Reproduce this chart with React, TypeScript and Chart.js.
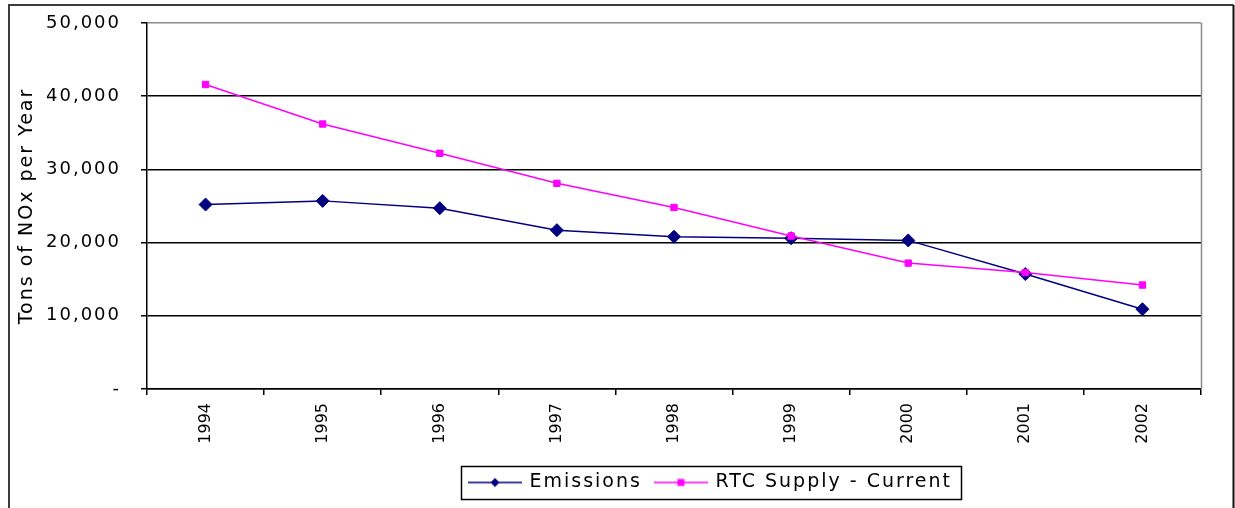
import React, { useEffect, useRef } from 'react';
import { Chart, registerables } from 'chart.js';

Chart.register(...registerables);

// ---- data ----
const years = ['1994', '1995', '1996', '1997', '1998', '1999', '2000', '2001', '2002'];
const emissions = [25200, 25700, 24700, 21700, 20800, 20600, 20300, 15700, 10900];
const rtcSupply = [41600, 36200, 32200, 28100, 24800, 20900, 17200, 15900, 14200];
const seriesNames = ['Emissions', 'RTC Supply - Current'];
const yTitle = 'Tons of NOx per Year';
const yMin = 0;
const yMax = 50000;
const yStep = 10000;

// ---- style ----
const NAVY = '#000080';
const MAGENTA = '#FF00FF';
const FONT = 'DejaVu Sans';
const W = 1235;
const H = 508;
const SPACING = '2px';
const PLOT_BOTTOM = 389;
const LEGEND_CX = 711;
const LEGEND_CY = 482.5;
const LEGEND_FONT = 19;

function makeSwatch(color: string, kind: 'diamond' | 'square'): HTMLCanvasElement {
  const c = document.createElement('canvas');
  c.width = 54;
  c.height = 14;
  const g = c.getContext('2d')!;
  g.strokeStyle = color;
  g.lineWidth = 1.5;
  g.beginPath();
  g.moveTo(0, 7);
  g.lineTo(54, 7);
  g.stroke();
  g.fillStyle = color;
  if (kind === 'diamond') {
    g.beginPath();
    g.moveTo(27, 2.5);
    g.lineTo(31.5, 7);
    g.lineTo(27, 11.5);
    g.lineTo(22.5, 7);
    g.closePath();
    g.fill();
  } else {
    g.fillRect(23.5, 3.5, 7, 7);
  }
  return c;
}

const excelPlugin = {
  id: 'excelStyle',
  beforeLayout(chart: any) {
    chart.ctx.letterSpacing = SPACING;
  },
  afterLayout(chart: any) {
    const lg = chart.legend;
    if (!lg || !lg.lineWidths) return;
    const pad = lg.options.labels.padding;
    const lw = lg.lineWidths[0];
    const x0 = (lg.left + pad + lg.right - lw) / 2;
    const target = LEGEND_CX - (lw - pad) / 2;
    const dx = target - x0;
    lg.left += dx;
    lg.right += dx;
    const itemTop = lg.top + pad;
    const dy = LEGEND_CY - LEGEND_FONT / 2 - itemTop;
    lg.top += dy;
    lg.bottom += dy;
  },
  beforeDraw(chart: any) {
    chart.ctx.letterSpacing = SPACING;
  },
  afterDatasetsDraw(chart: any) {
    chart.ctx.letterSpacing = '0px';
  },
  afterDraw(chart: any) {
    const ctx = chart.ctx;
    const a = chart.chartArea;
    ctx.save();
    // plot area right border (grey)
    ctx.strokeStyle = '#8a8a8a';
    ctx.lineWidth = 1.5;
    ctx.beginPath();
    ctx.moveTo(a.right + 0.5, a.top);
    ctx.lineTo(a.right + 0.5, a.bottom);
    ctx.stroke();
    // outer chart frame
    ctx.lineWidth = 2;
    ctx.strokeStyle = '#3c3c3c';
    ctx.beginPath();
    ctx.moveTo(9, chart.height + 2);
    ctx.lineTo(9, 5);
    ctx.lineTo(1233.5, 5);
    ctx.stroke();
    ctx.strokeStyle = '#111';
    ctx.beginPath();
    ctx.moveTo(1233.5, 5);
    ctx.lineTo(1233.5, chart.height + 2);
    ctx.stroke();
    // legend frame
    const lg = chart.legend;
    if (lg && lg.lineWidths) {
      const pad = lg.options.labels.padding;
      const lw = lg.lineWidths[0];
      const x0 = (lg.left + pad + lg.right - lw) / 2;
      const left = Math.round(x0 - 9) + 0.5;
      const right = Math.round(x0 + lw - pad + 9) + 0.5;
      const top = Math.round(LEGEND_CY - 16.5) + 0.5;
      const bottom = Math.round(LEGEND_CY + 16.5) + 0.5;
      ctx.strokeStyle = '#000';
      ctx.lineWidth = 1.5;
      ctx.strokeRect(left, top, right - left, bottom - top);
    }
    ctx.restore();
  },
};

export default function App() {
  const ref = useRef<HTMLCanvasElement | null>(null);

  useEffect(() => {
    document.body.style.margin = '0';
    const canvas = ref.current!;
    const swatches = [makeSwatch(NAVY, 'diamond'), makeSwatch(MAGENTA, 'square')];
    const colors = [NAVY, MAGENTA];

    const chart = new Chart(canvas, {
      type: 'line',
      data: {
        labels: years,
        datasets: [
          {
            label: seriesNames[0],
            data: emissions,
            borderColor: NAVY,
            backgroundColor: NAVY,
            borderWidth: 1.5,
            pointStyle: 'rectRot',
            pointRadius: 6.5,
            pointBorderWidth: 1,
            pointBackgroundColor: NAVY,
            pointBorderColor: NAVY,
            tension: 0,
            order: 1,
          },
          {
            label: seriesNames[1],
            data: rtcSupply,
            borderColor: MAGENTA,
            backgroundColor: MAGENTA,
            borderWidth: 1.5,
            pointStyle: 'rect',
            pointRadius: 4.5,
            pointBorderWidth: 1,
            pointBackgroundColor: MAGENTA,
            pointBorderColor: MAGENTA,
            tension: 0,
            order: 0,
          },
        ],
      },
      options: {
        responsive: false,
        devicePixelRatio: 1,
        animation: false,
        events: [],
        layout: { padding: { top: 23, right: 34, left: 0, bottom: 0 } },
        plugins: {
          tooltip: { enabled: false },
          title: { display: false },
          legend: {
            display: true,
            position: 'bottom',
            labels: {
              usePointStyle: true,
              pointStyleWidth: 50,
              padding: 14,
              color: '#000',
              font: { family: FONT, size: LEGEND_FONT },
              generateLabels: (ch: any) =>
                ch.data.datasets.map((ds: any, i: number) => ({
                  text: ds.label,
                  fillStyle: colors[i],
                  strokeStyle: colors[i],
                  lineWidth: 0,
                  hidden: false,
                  datasetIndex: i,
                  pointStyle: swatches[i],
                  fontColor: '#000',
                })),
            },
          },
        },
        scales: {
          x: {
            type: 'category',
            offset: true,
            grid: {
              display: true,
              offset: true,
              drawOnChartArea: false,
              drawTicks: true,
              tickLength: 6,
              color: '#000',
              lineWidth: 1.5,
            },
            border: { display: true, color: '#000', width: 1.5 },
            ticks: {
              z: 1,
              autoSkip: false,
              minRotation: 90,
              maxRotation: 90,
              padding: 8,
              color: '#000',
              font: { family: FONT, size: 16 },
            },
            afterFit: (s: any) => {
              const lgH = s.chart.legend ? s.chart.legend.height : 0;
              s.height = s.chart.height - PLOT_BOTTOM - lgH;
              s.paddingLeft = 0;
              s.paddingRight = 0;
            },
          },
          y: {
            type: 'linear',
            min: yMin,
            max: yMax,
            grid: {
              display: true,
              drawTicks: true,
              tickLength: 6,
              color: (c: any) => (c.tick && c.tick.value === yMax ? '#8a8a8a' : '#000'),
              tickColor: '#000',
              lineWidth: 1.5,
            },
            border: { display: true, color: '#000', width: 1.5 },
            ticks: {
              stepSize: yStep,
              padding: 20,
              color: '#000',
              font: { family: FONT, size: 18 },
              callback: (v: any) => (Number(v) === 0 ? '-' : Number(v).toLocaleString('en-US')),
            },
            title: {
              display: true,
              text: yTitle,
              color: '#000',
              font: { family: FONT, size: 19, lineHeight: 1 },
              padding: { top: 18, bottom: 0 },
            },
            afterFit: (s: any) => {
              s.width = 147;
              s.paddingTop = 11;
              s.paddingBottom = 11;
            },
          },
        },
      },
      plugins: [excelPlugin as any],
    });

    return () => chart.destroy();
  }, []);

  return (
    <div style={{ position: 'fixed', left: 0, top: 0, width: W, height: H, background: '#fff' }}>
      <canvas ref={ref} width={W} height={H} style={{ display: 'block' }} />
    </div>
  );
}
